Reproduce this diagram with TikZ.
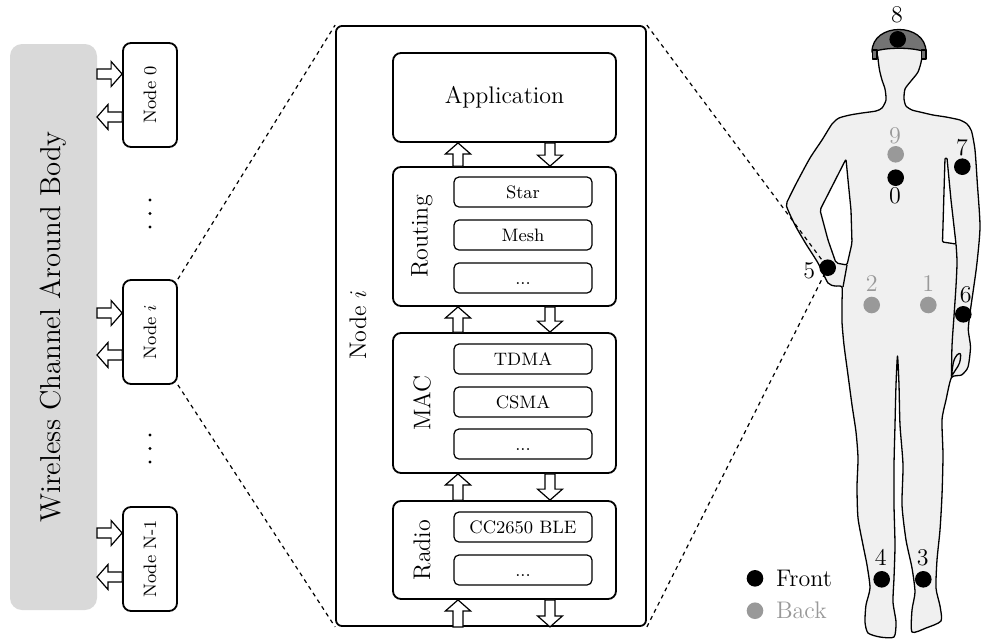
\documentclass[tikz,border=0pt]{standalone}
\usetikzlibrary{calc}
\begin{document}
\begin{tikzpicture}[x=0.5pt, y=-0.5pt,
  chanbox/.style={fill=black!15, rounded corners=6pt, minimum width=43.5pt, minimum height=283pt,
    inner sep=0pt, outer sep=0pt, font=\Large},
  nodebox/.style={draw, line width=0.9pt, rounded corners=4pt, fill=white, minimum width=27pt,
    minimum height=52pt, inner sep=0pt, font=\small},
  nodeframe/.style={draw, line width=0.9pt, rounded corners=3pt, minimum width=155pt,
    minimum height=300pt, inner sep=0pt},
  stackbox/.style={draw, line width=0.9pt, rounded corners=4pt, minimum width=111.5pt, inner sep=0pt},
  choice/.style={draw, line width=0.6pt, rounded corners=2.5pt, minimum width=69pt, minimum height=15pt,
    inner sep=0pt, font=\small, text height=6.3pt, text depth=0pt},
  layerlabel/.style={rotate=90, font=\large},
  barrow/.style={draw, fill=white, line width=0.6pt, line join=miter,
    to path={coordinate (bas) (\tikztotarget) coordinate (bat)
      ($(bat)!5.5pt!(bas)$) coordinate (ban)
      ($(bas)!2.5pt!90:(bat)$) -- ($(ban)!2.5pt!90:(bat)$) -- ($(ban)!6.25pt!90:(bat)$) -- (bat)
      -- ($(ban)!6.25pt!-90:(bat)$) -- ($(ban)!2.5pt!-90:(bat)$) -- ($(bas)!2.5pt!-90:(bat)$) -- cycle}},
  dashline/.style={dash pattern=on 2pt off 2pt, line width=0.6pt},
  sfront/.style={circle, fill=black, minimum size=8.3pt, inner sep=0pt},
  sback/.style={circle, fill=black!40, minimum size=8.3pt, inner sep=0pt},
  snum/.style={font=\large, inner sep=0pt},
  bodyline/.style={draw=black, line width=0.65pt, line join=round},
  helmet/.style={fill=black!55, draw=black, line width=0.65pt, line join=round}
]
\useasboundingbox (0,0) rectangle (981,639);

% ---------- wireless channel and the sensor nodes ----------
\node[chanbox] (chan) at (53.5,327) {\rotatebox{90}{Wireless Channel Around Body}};
\node[nodebox] (n0) at (150,95) {\rotatebox{90}{Node 0}};
\node[nodebox] (ni) at (150,332) {\rotatebox{90}{Node $i$}};
\node[nodebox] (nN) at (150,559) {\rotatebox{90}{Node N-1}};

\coordinate (n0r) at ($(n0.west)+(0,-21)$);
\coordinate (n0l) at ($(n0.west)+(0,22)$);
\coordinate (nir) at ($(ni.west)+(0,-19)$);
\coordinate (nil) at ($(ni.west)+(0,23)$);
\coordinate (nNr) at ($(nN.west)+(0,-26)$);
\coordinate (nNl) at ($(nN.west)+(0,18)$);
\draw[barrow] (chan.east |- n0r) to (n0r);
\draw[barrow] (n0l) to (chan.east |- n0l);
\draw[barrow] (chan.east |- nir) to (nir);
\draw[barrow] (nil) to (chan.east |- nil);
\draw[barrow] (chan.east |- nNr) to (nNr);
\draw[barrow] (nNl) to (chan.east |- nNl);

% vertical ellipses between the nodes
\foreach \yy in {200,213.5,227,435,448.5,462}
  \fill (150,\yy) circle[radius=0.8pt];

% ---------- protocol stack of node i ----------
\node[nodeframe] (cont) at (491,326) {};
\node[font=\large, rotate=90] (conttitle) at (358,325) {Node $i$};

\node[stackbox, minimum height=44.5pt, font=\large] (app) at (504.5,97.5) {Application};
\node[stackbox, minimum height=69.5pt] (rt) at (504.5,236.5) {};
\node[stackbox, minimum height=70pt] (mac) at (504.5,403) {};
\node[stackbox, minimum height=49pt] (rad) at (504.5,550) {};

\node[layerlabel] (rtlabel) at (422,236.5) {Routing};
\node[layerlabel] (maclabel) at (422,403) {MAC};
\node[layerlabel] (radlabel) at (422,550) {Radio};

\node[choice] (star) at (523,192) {Star};
\node[choice] (mesh) at (523,235) {Mesh};
\node[choice] (rtmore) at (523,278) {...};
\node[choice] (tdma) at (523,359) {TDMA};
\node[choice] (csma) at (523,402) {CSMA};
\node[choice] (macmore) at (523,444) {...};
\node[choice] (cc) at (523,527) {CC2650 BLE};
\node[choice] (radmore) at (523,570) {...};

\coordinate (upx) at (458,0);
\coordinate (dnx) at (550,0);
\draw[barrow] (rt.north -| upx) to (app.south -| upx);
\draw[barrow] (app.south -| dnx) to (rt.north -| dnx);
\draw[barrow] (mac.north -| upx) to (rt.south -| upx);
\draw[barrow] (rt.south -| dnx) to (mac.north -| dnx);
\draw[barrow] (rad.north -| upx) to (mac.south -| upx);
\draw[barrow] (mac.south -| dnx) to (rad.north -| dnx);
\draw[barrow] (cont.south -| upx) to (rad.south -| upx);
\draw[barrow] (rad.south -| dnx) to (cont.south -| dnx);

\draw[dashline] (ni.north east) -- (cont.north west);
\draw[dashline] (ni.south east) -- (cont.south west);

% ---------- body silhouette ----------
\filldraw[bodyline, fill=black!6] plot[smooth cycle, tension=0.4] coordinates {
  (878,44) (878,58) (879.5,70) (882,80) (885,89) (886,100) (882,108) (876,111)
  (862,113) (850,115) (839,118) (832,124)
  (822,140) (810,158) (797,182) (789,198) (786.5,206)
  (795,225) (806,244) (818,263) (828,283)
  (835,286) (842,287)
  (842,302) (842,322) (844,345) (848,375) (852,405) (856,432) (858,458) (857,487)
  (858,518) (863,545) (867,565) (870,588)
  (866,605) (865,622) (868,633) (880,637) (894,637) (896,622) (893,602)
  (894,578) (895,545) (894,505) (894,465) (895,425) (896,385) (897.5,356)
  (899,385) (900,425) (903,465) (902,505) (906,540) (912,568) (915,592)
  (912,610) (912,632) (926,628) (941,621) (940,606)
  (936,588) (937,560) (940,530) (942,495) (943,455) (942,420)
  (946,400) (951.5,377.5)
  (961.5,375) (968,367) (970.5,347) (968.3,330) (970,313)
  (976.5,267) (980,227) (977.3,183) (975,150) (971.5,131) (967,124)
  (960,120) (946,117) (933,115) (920,112) (912,110) (906,106) (904,99)
  (905,89) (911,81) (918,72) (921.5,60) (922,44)};

% gaps between the arms and the torso
\filldraw[bodyline, fill=white, rounded corners=1pt]
  (846,159) -- (820,210) -- (828,240) -- (836,263) -- (847,265) -- (852,243) -- (851,210) -- (848,180) -- cycle;
\filldraw[bodyline, fill=white, rounded corners=0.5pt]
  (945,158) -- (942.5,242) -- (956,244) -- (951,200) -- (947,158) -- cycle;

% inner contours: hip behind the left hand, right forearm and thumb
\draw[bodyline] (847,265) -- (843,287);
\draw[bodyline] plot[smooth, tension=0.5] coordinates {(956,244) (957,262) (956,286) (954,316) (952,346) (951.5,377.5)};
\draw[bodyline] plot[smooth, tension=0.6] coordinates {(951.5,376) (953.5,362) (957,355) (960.5,354) (959.5,363) (955.5,370) (951.5,376)};

% helmet
\filldraw[helmet] (872,52) .. controls (872,22) and (926,22) .. (926,52)
  .. controls (912,47) and (886,47) .. (872,52) -- cycle;
\filldraw[helmet] (872.5,50) rectangle (877,59);
\filldraw[helmet] (921.5,50) rectangle (926,59);

% links from the stack to the wrist sensor
\coordinate (s5pos) at (827.7,267.7);
\draw[dashline] (cont.north east) -- (s5pos);
\draw[dashline] (cont.south east) -- (s5pos);

% ---------- sensor positions ----------
\node[sfront] (s8) at (897.7,39.3) {};
\node[sback]  (s9) at (895.7,154.3) {};
\node[sfront] (s0) at (895.7,177.7) {};
\node[sfront] (s7) at (962.3,166.7) {};
\node[sfront] (s5) at (s5pos) {};
\node[sback]  (s2) at (871.7,305) {};
\node[sback]  (s1) at (928.3,305) {};
\node[sfront] (s6) at (963.3,314.3) {};
\node[sfront] (s4) at (881.7,579.3) {};
\node[sfront] (s3) at (923.3,579.3) {};

\node[snum] (l8) at (897,15) {8};
\node[snum, text=black!40] (l9) at (895,135.5) {9};
\node[snum] (l0) at (895,196) {0};
\node[snum] (l7) at (962,147.5) {7};
\node[snum] (l5) at (809.3,270.5) {5};
\node[snum, text=black!40] (l2) at (871.7,283.3) {2};
\node[snum, text=black!40] (l1) at (928.3,283.3) {1};
\node[snum] (l6) at (965.7,294.3) {6};
\node[snum] (l4) at (880.7,557.5) {4};
\node[snum] (l3) at (922.7,557.5) {3};

% legend
\node[sfront] (lgf) at (755,578.3) {};
\node[anchor=west, font=\large] (lgftext) at (769,578.3) {Front};
\node[sback] (lgb) at (755,610.7) {};
\node[anchor=west, font=\large, text=black!40] (lgbtext) at (769,610.7) {Back};
\end{tikzpicture}
\end{document}
